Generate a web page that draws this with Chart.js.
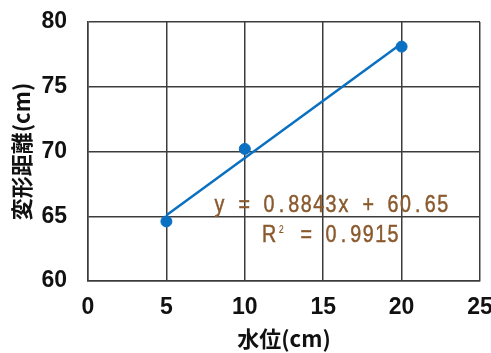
<!DOCTYPE html>
<html>
<head>
<meta charset="utf-8">
<script src="https://cdn.jsdelivr.net/npm/chart.js@4/dist/chart.umd.min.js"></script>
<style>
  html, body { margin: 0; padding: 0; background: #fff; }
  #wrap { width: 491px; height: 353px; }
</style>
</head>
<body>
<div id="wrap"><canvas id="chart" width="491" height="353"></canvas></div>
<script>
// water level (cm) vs deformation distance (cm)
var waterLevel = [5, 10, 20]
var deformation = [64.6, 70.2, 78.1]

// Excel linear trendline, as printed on the chart
var trendSlope = 0.8843
var trendIntercept = 60.65
var trendRange = [5, 20]
var equationLines = ["y = 0.8843x + 60.65", "R\u00b2 = 0.9915"]

var xTicks = [0, 5, 10, 15, 20, 25]
var yTicks = [60, 65, 70, 75, 80]

var blue = "#0a70c2"
var gridColour = "#3c3c3c"
var labelColour = "#8a5a2e"
var tickFont = { family: "'Liberation Sans Narrow', 'Liberation Sans'", size: 23, weight: "bold" }

var points = waterLevel.map(function(x, i) {
  return { x: x, y: deformation[i] }
})
var trendPoints = trendRange.map(function(x) {
  return { x: x, y: trendSlope * x + trendIntercept }
})

// draws the trendline label one glyph per fixed-width cell, like the original
var equationLabel = {
  id: "equationLabel",
  afterDatasetsDraw: function(chart) {
    var ctx = chart.ctx
    var area = chart.chartArea
    var cell = 12.4
    var centreX = area.left + 243
    var rows = [area.top + 183, area.top + 213]
    ctx.save()
    ctx.fillStyle = labelColour
    ctx.strokeStyle = labelColour
    ctx.lineWidth = 0.5
    ctx.font = "24px 'Liberation Sans'"
    ctx.textAlign = "center"
    ctx.textBaseline = "middle"
    equationLines.forEach(function(line, r) {
      var startX = centreX - line.length * cell / 2
      for (var i = 0; i < line.length; i++) {
        var ch = line[i]
        if (ch === " ") continue
        ctx.save()
        ctx.translate(startX + cell * (i + 0.5), rows[r])
        ctx.scale(0.82, 1)
        if (ch === "\u00b2") {
          ctx.font = "17px 'Liberation Sans'"
          ctx.fillText(ch, 0, -2)
        } else {
          ctx.fillText(ch, 0, 0)
          ctx.strokeText(ch, 0, 0)
        }
        ctx.restore()
      }
    })
    ctx.restore()
  }
}

new Chart(document.getElementById("chart"), {
  type: "scatter",
  data: {
    datasets: [{
      label: "trend",
      type: "line",
      data: trendPoints,
      borderColor: blue,
      borderWidth: 2.5,
      pointRadius: 0,
      fill: false,
      order: 2
    }, {
      label: "data",
      data: points,
      backgroundColor: blue,
      borderColor: blue,
      pointRadius: 5.5,
      pointHoverRadius: 5.5,
      order: 1
    }]
  },
  options: {
    responsive: false,
    animation: false,
    layout: { padding: { top: 22, right: 11, left: 0, bottom: 0 } },
    plugins: {
      legend: { display: false },
      tooltip: { enabled: false }
    },
    scales: {
      x: {
        type: "linear",
        min: xTicks[0],
        max: xTicks[xTicks.length - 1],
        afterBuildTicks: function(scale) {
          scale.ticks = xTicks.map(function(v) { return { value: v } })
        },
        afterFit: function(scale) {
          scale.height = 72
          scale.paddingLeft = 0
          scale.paddingRight = 0
        },
        grid: { color: gridColour, lineWidth: 1.5, drawTicks: false },
        border: { color: gridColour, width: 1.5 },
        ticks: { color: "#111", padding: 13, font: tickFont },
        title: {
          display: true,
          text: "水位(cm)",
          color: "#111",
          padding: { top: 0, bottom: 1 },
          font: { family: "'Noto Sans CJK JP'", size: 22, weight: "bold" }
        }
      },
      y: {
        type: "linear",
        min: yTicks[0],
        max: yTicks[yTicks.length - 1],
        afterBuildTicks: function(scale) {
          scale.ticks = yTicks.map(function(v) { return { value: v } })
        },
        afterFit: function(scale) {
          scale.width = 88
          scale.paddingTop = 0
          scale.paddingBottom = 0
        },
        grid: { color: gridColour, lineWidth: 1.5, drawTicks: false },
        border: { color: gridColour, width: 1.5 },
        ticks: { color: "#111", padding: 21, font: tickFont },
        title: {
          display: true,
          text: "変形距離(cm)",
          color: "#111",
          padding: { top: 8, bottom: 0 },
          font: { family: "'Noto Sans CJK JP'", size: 22, weight: "bold" }
        }
      }
    }
  },
  plugins: [equationLabel]
})
</script>
</body>
</html>
